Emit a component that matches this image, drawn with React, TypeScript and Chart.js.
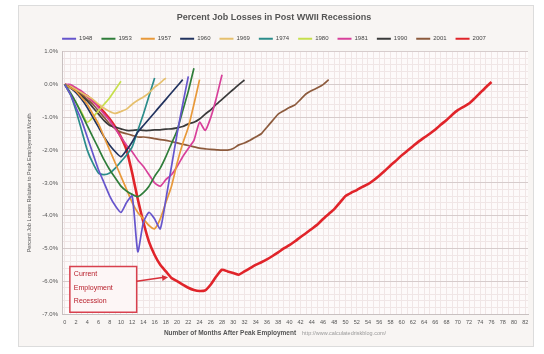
import React, { useEffect, useRef } from "react";
import { Chart, registerables } from "chart.js";
Chart.register(...registerables);

const FONT = "'Liberation Sans', Arial, sans-serif";
const TITLE = "Percent Job Losses in Post WWII Recessions";
const Y_TITLE = "Percent Job Losses Relative to Peak Employment Month";
const X_TITLE = "Number of Months After Peak Employment";
const SOURCE = "http://www.calculatedriskblog.com/";
const CALLOUT = ["Current", "Employment", "Recession"];

const months: string[] = Array.from({ length: 83 }, (_, i) => String(i));

const s1948 = [0, -0.3, -0.7, -1.1, -1.6, -2.1, -2.6, -3.0, -3.4, -3.7, -3.9, -3.6, -3.4, -5.1, -4.2, -3.9, -4.1, -4.4, -3.5, -2.5, -1.5, -0.6, 0.25];
const s1953 = [0, -0.25, -0.55, -0.9, -1.25, -1.6, -1.95, -2.3, -2.6, -2.85, -3.1, -3.25, -3.35, -3.42, -3.3, -3.1, -2.8, -2.55, -2.2, -1.8, -1.4, -0.8, -0.2, 0.5];
const s1957 = [0, -0.1, -0.2, -0.4, -0.6, -0.9, -1.2, -1.6, -2.0, -2.4, -2.8, -3.2, -3.6, -3.9, -4.1, -4.3, -4.4, -4.1, -3.6, -3.1, -2.4, -1.8, -1.3, -0.6, 0.15];
const s1960 = [0, -0.1, -0.25, -0.45, -0.7, -1.0, -1.3, -1.6, -1.85, -2.05, -2.2, -2.0, -1.75, -1.45, -1.25, -1.05, -0.85, -0.65, -0.45, -0.25, -0.05, 0.15];
const s1969 = [0, -0.05, -0.15, -0.25, -0.35, -0.45, -0.6, -0.72, -0.82, -0.88, -0.82, -0.75, -0.6, -0.48, -0.38, -0.25, -0.08, 0.05, 0.2];
const s1974 = [0, -0.3, -0.8, -1.4, -2.0, -2.4, -2.7, -2.75, -2.7, -2.55, -2.35, -2.15, -1.9, -1.4, -0.9, -0.35, 0.2];
const s1980 = [0, -0.3, -0.55, -0.85, -1.15, -1.0, -0.8, -0.6, -0.4, -0.15, 0.1];
const s1981 = [0, 0, -0.1, -0.2, -0.35, -0.5, -0.7, -0.9, -1.1, -1.35, -1.6, -1.85, -2.05, -2.3, -2.5, -2.75, -3.0, -3.1, -2.9, -2.75, -2.5, -2.2, -1.95, -1.7, -1.15, -1.4, -1.0, -0.4, 0.3];
const s1990 = [0, -0.1, -0.2, -0.35, -0.5, -0.7, -0.9, -1.1, -1.25, -1.3, -1.35, -1.4, -1.4, -1.38, -1.4, -1.4, -1.38, -1.38, -1.36, -1.35, -1.32, -1.28, -1.2, -1.15, -1.05, -0.9, -0.77, -0.6, -0.45, -0.3, -0.15, 0.0, 0.14];
const s2001 = [0, -0.05, -0.15, -0.3, -0.45, -0.6, -0.8, -1.0, -1.2, -1.35, -1.45, -1.5, -1.55, -1.6, -1.6, -1.62, -1.65, -1.68, -1.7, -1.74, -1.78, -1.82, -1.86, -1.9, -1.94, -1.96, -1.98, -1.99, -2.0, -2.0, -1.95, -1.84, -1.78, -1.7, -1.6, -1.5, -1.3, -1.1, -0.9, -0.8, -0.7, -0.62, -0.45, -0.28, -0.18, -0.1, 0.0, 0.15];
const s2007 = [0, -0.05, -0.15, -0.25, -0.35, -0.5, -0.65, -0.85, -1.05, -1.3, -1.6, -2.0, -2.7, -3.5, -4.2, -4.8, -5.2, -5.5, -5.7, -5.9, -6.0, -6.1, -6.2, -6.27, -6.3, -6.28, -6.1, -5.85, -5.65, -5.7, -5.75, -5.8, -5.7, -5.6, -5.5, -5.42, -5.33, -5.23, -5.12, -5.0, -4.9, -4.78, -4.65, -4.53, -4.4, -4.27, -4.1, -3.95, -3.8, -3.6, -3.4, -3.3, -3.22, -3.12, -3.04, -2.92, -2.78, -2.63, -2.47, -2.32, -2.16, -2.02, -1.88, -1.74, -1.62, -1.5, -1.37, -1.22, -1.08, -0.92, -0.78, -0.68, -0.58, -0.42, -0.25, -0.08, 0.08];

const seriesNames = ["1948", "1953", "1957", "1960", "1969", "1974", "1980", "1981", "1990", "2001", "2007"];
const seriesData = [s1948, s1953, s1957, s1960, s1969, s1974, s1980, s1981, s1990, s2001, s2007];
const seriesColors = ["#6655cc", "#2f7d3a", "#e8993a", "#22335f", "#e6c06e", "#2b8c8a", "#c6df4c", "#d8409a", "#3a3a3a", "#8c5a3c", "#e0242a"];

const bgPlugin = {
  id: "plotBg",
  beforeDraw(chart: any) {
    const { ctx, chartArea } = chart;
    ctx.save();
    ctx.fillStyle = "#fdfafa";
    ctx.fillRect(chartArea.left, chartArea.top, chartArea.right - chartArea.left, chartArea.bottom - chartArea.top);
    ctx.restore();
  },
};

const notePlugin = {
  id: "notes",
  afterDraw(chart: any) {
    const { ctx, scales } = chart;
    const x = scales.x;
    const y = scales.y;
    ctx.save();
    const bx0 = x.getPixelForValue(0.9);
    const bx1 = x.getPixelForValue(12.8);
    const by0 = y.getPixelForValue(-5.55);
    const by1 = y.getPixelForValue(-6.95);
    ctx.fillStyle = "#fdf6f6";
    ctx.strokeStyle = "#d8404e";
    ctx.lineWidth = 1.5;
    ctx.beginPath();
    ctx.rect(bx0, by0, bx1 - bx0, by1 - by0);
    ctx.fill();
    ctx.stroke();
    ctx.fillStyle = "#b8202c";
    ctx.font = `7px ${FONT}`;
    ctx.textBaseline = "middle";
    ctx.textAlign = "left";
    const ys = [-5.77, -6.2, -6.62];
    CALLOUT.forEach((t, i) => ctx.fillText(t, bx0 + 4, y.getPixelForValue(ys[i])));
    const ax0 = bx1;
    const ay0 = y.getPixelForValue(-6.0);
    const ax1 = x.getPixelForValue(18.4);
    const ay1 = y.getPixelForValue(-5.88);
    ctx.strokeStyle = "#d8303a";
    ctx.lineWidth = 1.5;
    ctx.beginPath();
    ctx.moveTo(ax0, ay0);
    ctx.lineTo(ax1 - 4, ay1);
    ctx.stroke();
    const ang = Math.atan2(ay1 - ay0, ax1 - ax0);
    ctx.fillStyle = "#d8303a";
    ctx.beginPath();
    ctx.moveTo(ax1, ay1);
    ctx.lineTo(ax1 - 6 * Math.cos(ang) + 3 * Math.sin(ang), ay1 - 6 * Math.sin(ang) - 3 * Math.cos(ang));
    ctx.lineTo(ax1 - 6 * Math.cos(ang) - 3 * Math.sin(ang), ay1 - 6 * Math.sin(ang) + 3 * Math.cos(ang));
    ctx.closePath();
    ctx.fill();
    ctx.textAlign = "left";
    ctx.font = `bold 6.5px ${FONT}`;
    const w1 = ctx.measureText(X_TITLE).width;
    ctx.font = `5.5px ${FONT}`;
    const w2 = ctx.measureText(SOURCE).width;
    const total = w1 + 6 + w2;
    const cx = 275;
    const ty = 333;
    ctx.font = `bold 6.5px ${FONT}`;
    ctx.fillStyle = "#555";
    ctx.fillText(X_TITLE, cx - total / 2, ty);
    ctx.font = `5.5px ${FONT}`;
    ctx.fillStyle = "#999";
    ctx.fillText(SOURCE, cx - total / 2 + w1 + 6, ty);
    ctx.restore();
  },
};

export default function App() {
  const ref = useRef<HTMLCanvasElement>(null);
  useEffect(() => {
    const canvas = ref.current;
    if (!canvas) return;
    const datasets = seriesNames.map((name, i) => ({
      label: name,
      data: seriesData[i],
      borderColor: seriesColors[i],
      backgroundColor: seriesColors[i],
      borderWidth: name === "2007" ? 2.6 : 1.7,
      pointRadius: 0,
      tension: 0.2,
      fill: false,
    }));
    const chart = new Chart(canvas, {
      type: "line",
      data: { labels: months, datasets },
      options: {
        animation: false,
        responsive: false,
        maintainAspectRatio: false,
        layout: { padding: { left: 20, right: 16, top: 4, bottom: 12 } },
        plugins: {
          title: {
            display: true,
            text: TITLE,
            color: "#555",
            font: { family: FONT, size: 9, weight: "bold" },
            padding: { top: 8, bottom: 4 },
          },
          legend: {
            display: true,
            labels: {
              boxWidth: 14,
              boxHeight: 2,
              padding: 9,
              color: "#444",
              font: { family: FONT, size: 6 },
              generateLabels: (c: any) =>
                (Chart.defaults.plugins.legend.labels as any).generateLabels(c).map((l: any) => ({ ...l, lineWidth: 0 })),
            },
          },
          tooltip: { enabled: false },
        },
        scales: {
          x: {
            type: "category",
            offset: true,
            grid: { color: "#f0e6e6", drawTicks: false, offset: false },
            border: { color: "#c8c0c0" },
            ticks: {
              autoSkip: false,
              maxRotation: 0,
              minRotation: 0,
              padding: 5,
              color: "#555",
              font: { family: FONT, size: 5.5 },
              callback: (_v: any, i: number) => (i % 2 === 0 ? months[i] : ""),
            },
            afterFit: (s: any) => {
              s.height = 28;
            },
          },
          y: {
            min: -7,
            max: 1,
            grid: {
              drawTicks: false,
              color: (c: any) => {
                const v = c.tick ? c.tick.value : 0;
                return Math.abs(v - Math.round(v)) < 1e-6 ? "#d6cccc" : "#f0e6e6";
              },
            },
            border: { color: "#c8c0c0" },
            ticks: {
              stepSize: 0.2,
              maxTicksLimit: 100,
              autoSkip: false,
              padding: 4,
              color: "#555",
              font: { family: FONT, size: 6 },
              callback: (v: any) => {
                const n = Number(v);
                return Math.abs(n - Math.round(n)) < 1e-6 ? `${Math.round(n).toFixed(1)}%` : "";
              },
            },
            title: {
              display: true,
              text: Y_TITLE,
              color: "#555",
              font: { family: FONT, size: 5.5 },
              padding: { top: 6, bottom: 0 },
            },
            afterFit: (s: any) => {
              s.width = 42;
            },
          },
        },
      } as any,
      plugins: [bgPlugin, notePlugin],
    });
    return () => chart.destroy();
  }, []);
  return (
    <div style={{ position: "fixed", left: 0, top: 0, width: 544, height: 354, background: "#ffffff" }}>
      <div
        style={{
          position: "absolute",
          left: 18,
          top: 5,
          width: 516,
          height: 342,
          border: "1px solid #dcdcdc",
          background: "#f8f5f3",
          boxSizing: "border-box",
        }}
      />
      <canvas ref={ref} width={544} height={354} style={{ position: "absolute", left: 0, top: 0 }} />
    </div>
  );
}
